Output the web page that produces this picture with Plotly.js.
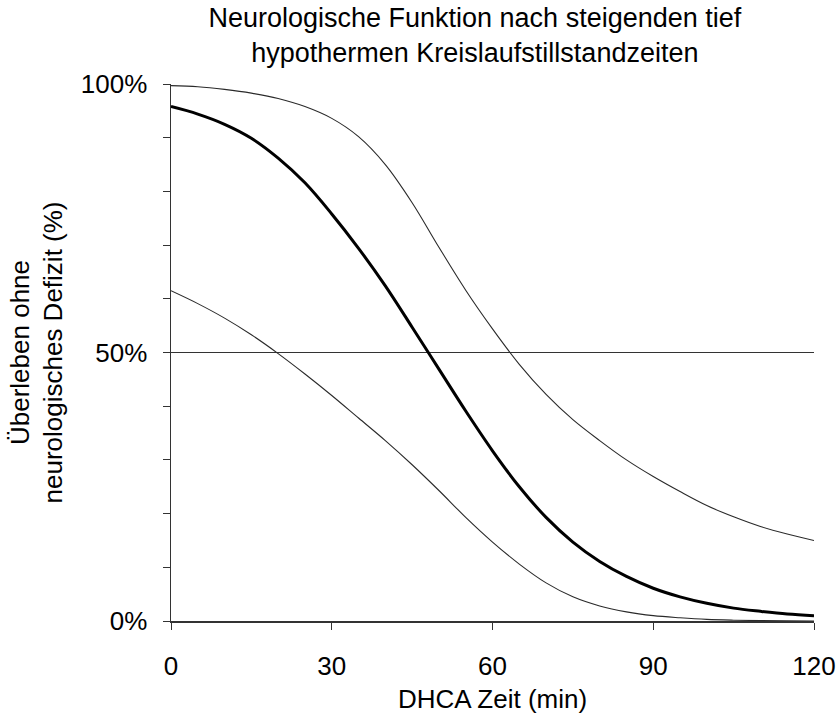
<!DOCTYPE html>
<html>
<head>
<meta charset="utf-8">
<script src="https://cdn.plot.ly/plotly-3.0.1.min.js"></script>
<style>html,body{margin:0;padding:0;background:#fff;}#chart{width:836px;height:720px;}</style>
</head>
<body>
<div id="chart"></div>
<script>
// DHCA time (min)
const dhcaMinutes = [0,5,10,15,20,25,30,35,40,45,50,55,60,65,70,75,80,85,90,95,100,105,110,115,120];
// survival without neurological deficit (%), point estimate
const survivalEstimate = [95.8,94.4,92.5,89.9,86.2,81.6,75.8,69.4,62.4,54.7,46.9,39.1,31.7,25.0,19.3,14.7,11.1,8.3,6.1,4.5,3.3,2.4,1.8,1.3,1.0];
// upper confidence bound (%)
const survivalUpper = [99.7,99.5,99.0,98.3,97.3,95.8,93.6,90.2,85.0,77.9,69.6,61.6,54.4,47.8,42.2,37.5,33.6,30.0,26.9,24.1,21.5,19.4,17.6,16.2,15.0];
// lower confidence bound (%)
const survivalLower = [61.5,59.1,56.4,53.3,49.8,46.0,42.0,37.8,33.6,29.1,24.3,19.3,14.7,10.6,7.1,4.5,2.8,1.7,1.0,0.6,0.3,0.15,0.07,0.03,0.01];

const xTickVals = [0,30,60,90,120];
const yTickVals = [0,50,100];
const yTickText = ['0%','50%','100%'];

const titleText = 'Neurologische Funktion nach steigenden tief<br>hypothermen Kreislaufstillstandzeiten';
const xTitle = 'DHCA Zeit (min)';
const yTitle = 'Überleben ohne<br>neurologisches Defizit (%)';

const fontFam = '"Liberation Sans", Arial, sans-serif';

const traces = [
  {x: dhcaMinutes, y: survivalUpper, name: 'obere Grenze', type: 'scatter', mode: 'lines',
   line: {color: '#2a2a2a', width: 1.1, shape: 'spline', smoothing: 1}},
  {x: dhcaMinutes, y: survivalLower, name: 'untere Grenze', type: 'scatter', mode: 'lines',
   line: {color: '#2a2a2a', width: 1.1, shape: 'spline', smoothing: 1}},
  {x: dhcaMinutes, y: survivalEstimate, name: 'Schätzung', type: 'scatter', mode: 'lines',
   line: {color: '#000000', width: 3, shape: 'spline', smoothing: 1}}
];

const layout = {
  width: 836, height: 720,
  paper_bgcolor: '#ffffff', plot_bgcolor: '#ffffff',
  showlegend: false,
  margin: {l: 171, r: 22, t: 84, b: 99, pad: 0},
  font: {family: fontFam, color: '#000', size: 26},
  title: {text: titleText, font: {family: fontFam, size: 27, color: '#000'},
          x: 0.568, xanchor: 'center', y: 0.962, yanchor: 'middle', yref: 'container'},
  xaxis: {
    range: [0, 120], tickvals: xTickVals, ticktext: xTickVals.map(String),
    showgrid: false, zeroline: false, showline: true, linecolor: '#333', linewidth: 1.5,
    ticks: 'outside', ticklen: 7, tickcolor: '#333', tickwidth: 1,
    tickfont: {family: fontFam, size: 26, color: '#000'}, ticklabelstandoff: 14,
    title: {text: xTitle, font: {family: fontFam, size: 26, color: '#000'}, standoff: 10}
  },
  yaxis: {
    range: [0, 100], tickvals: yTickVals, ticktext: yTickText,
    showgrid: true, gridcolor: '#333', gridwidth: 1, zeroline: false,
    showline: true, linecolor: '#333', linewidth: 1.5,
    ticks: 'outside', ticklen: 7, tickcolor: '#333', tickwidth: 1,
    minor: {dtick: 10, tick0: 0, ticks: 'outside', ticklen: 7, tickcolor: '#333', showgrid: false},
    tickfont: {family: fontFam, size: 26, color: '#000'}, ticklabelstandoff: 10,
    title: {text: yTitle, font: {family: fontFam, size: 26, color: '#000'}, standoff: 10}
  }
};

Plotly.newPlot('chart', traces, layout, {staticPlot: true, displayModeBar: false});
</script>
</body>
</html>
